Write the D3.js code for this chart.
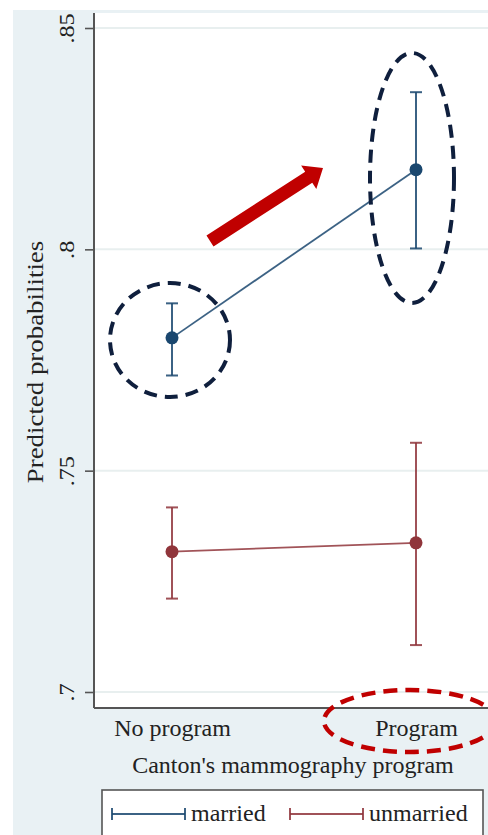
<!DOCTYPE html>
<html>
<head>
<meta charset="utf-8">
<script src="https://cdn.jsdelivr.net/npm/d3@7"></script>
<style>
  html, body { margin: 0; padding: 0; background: #ffffff; }
  svg { display: block; }
  svg text { font-family: "Liberation Serif", "DejaVu Serif", serif !important; fill: #222; }
</style>
</head>
<body>
<svg id="chart" width="488" height="835"></svg>
<script>
// Predicted probabilities by programme status and marital status
const categories = ["No program", "Program"];
const seriesNames = ["married", "unmarried"];
const marriedValues = [0.780, 0.818];
const marriedLower  = [0.7715, 0.8002];
const marriedUpper  = [0.7878, 0.8355];
const unmarriedValues = [0.7317, 0.7337];
const unmarriedLower  = [0.7211, 0.7106];
const unmarriedUpper  = [0.7417, 0.7563];
const yTicks = [0.7, 0.75, 0.8, 0.85];
const yTickLabels = [".7", ".75", ".8", ".85"];

const colors = { married: "#1a476f", unmarried: "#90353b" };
const SERIF = "Liberation Serif";

const svg = d3.select("#chart").attr("font-family", SERIF);
const W = 488, H = 835;
const FS = 24; // main text size

// Outer panel background
svg.append("rect").attr("x", 13).attr("y", 10).attr("width", W - 13).attr("height", H - 10)
  .attr("fill", "#e9f1f4");

// Plot region
const plot = { left: 94, top: 13, right: 490, bottom: 708 };
svg.append("rect").attr("x", plot.left).attr("y", plot.top)
  .attr("width", plot.right - plot.left).attr("height", plot.bottom - plot.top)
  .attr("fill", "#ffffff");

const y = d3.scaleLinear().domain([0.7, 0.85]).range([692, 28]);
const x = d3.scalePoint().domain(categories).range([172, 416]);

// Gridlines
svg.append("g").selectAll("line").data(yTicks).join("line")
  .attr("x1", plot.left).attr("x2", plot.right)
  .attr("y1", d => y(d)).attr("y2", d => y(d))
  .attr("stroke", "#e8efef").attr("stroke-width", 2);

// Y axis
const yAxis = d3.axisLeft(y).tickValues(yTicks)
  .tickFormat((d, i) => yTickLabels[i]).tickSize(9).tickPadding(4);
const gy = svg.append("g").attr("transform", `translate(${plot.left},0)`).call(yAxis)
  .attr("font-family", SERIF);
gy.select(".domain").remove();
gy.selectAll(".tick line").attr("stroke", "#555").attr("stroke-width", 1.6);
gy.selectAll(".tick text")
  .attr("font-size", 21).attr("fill", "#333").attr("font-family", SERIF)
  .attr("text-anchor", "middle")
  .attr("x", null).attr("dy", null)
  .attr("transform", "translate(-20,0) rotate(-90) scale(1.15,1)");

// Axis lines
svg.append("line").attr("x1", plot.left).attr("x2", plot.left)
  .attr("y1", plot.top).attr("y2", plot.bottom)
  .attr("stroke", "#555").attr("stroke-width", 2);
svg.append("line").attr("x1", plot.left).attr("x2", plot.right)
  .attr("y1", plot.bottom).attr("y2", plot.bottom)
  .attr("stroke", "#555").attr("stroke-width", 2);

// X axis labels
const xAxis = d3.axisBottom(x).tickSize(0).tickPadding(0);
const gx = svg.append("g").attr("transform", `translate(0,${plot.bottom})`).call(xAxis)
  .attr("font-family", SERIF);
gx.select(".domain").remove();
gx.selectAll(".tick text").attr("font-size", FS).attr("fill", "#222").attr("font-family", SERIF)
  .attr("y", 28).attr("dy", null);

// Axis titles
svg.append("text").attr("x", 293).attr("y", 773).attr("text-anchor", "middle")
  .attr("font-family", SERIF).attr("font-size", FS).text("Canton's mammography program");
svg.append("text").attr("transform", "translate(43,362) rotate(-90) scale(1.12,1)")
  .attr("text-anchor", "middle").attr("font-family", SERIF).attr("font-size", FS)
  .text("Predicted probabilities");

// Series
const series = [
  { name: "married", values: marriedValues, lo: marriedLower, hi: marriedUpper },
  { name: "unmarried", values: unmarriedValues, lo: unmarriedLower, hi: unmarriedUpper }
];
const line = d3.line().x((d, i) => x(categories[i])).y(d => y(d));

series.forEach(s => {
  const g = svg.append("g");
  const c = colors[s.name];
  g.append("path").attr("d", line(s.values)).attr("fill", "none")
    .attr("stroke", c).attr("stroke-width", 1.8).attr("opacity", 0.85);
  categories.forEach((cat, i) => {
    const cx = x(cat);
    g.append("line").attr("x1", cx).attr("x2", cx)
      .attr("y1", y(s.lo[i])).attr("y2", y(s.hi[i]))
      .attr("stroke", c).attr("stroke-width", 2).attr("opacity", 0.85);
    [s.lo[i], s.hi[i]].forEach(v => {
      g.append("line").attr("x1", cx - 6).attr("x2", cx + 6)
        .attr("y1", y(v)).attr("y2", y(v))
        .attr("stroke", c).attr("stroke-width", 2).attr("opacity", 0.85);
    });
    g.append("circle").attr("cx", cx).attr("cy", y(s.values[i])).attr("r", 6.5)
      .attr("fill", c);
  });
});

// Annotations: dashed ellipses and arrow
const navy = "#0f1f3d", red = "#c00000";
svg.append("ellipse").attr("cx", 170).attr("cy", 340).attr("rx", 60).attr("ry", 57)
  .attr("fill", "none").attr("stroke", navy).attr("stroke-width", 4)
  .attr("stroke-dasharray", "13 8");
svg.append("ellipse").attr("cx", 412).attr("cy", 178).attr("rx", 42).attr("ry", 125)
  .attr("fill", "none").attr("stroke", navy).attr("stroke-width", 4)
  .attr("stroke-dasharray", "13 8");
svg.append("ellipse").attr("cx", 410).attr("cy", 721).attr("rx", 86).attr("ry", 31)
  .attr("fill", "none").attr("stroke", red).attr("stroke-width", 4.5)
  .attr("stroke-dasharray", "14 8");

// Arrow pointing up-right
(function () {
  const x0 = 210, y0 = 241, x1 = 323, y1 = 168;
  const ang = Math.atan2(y1 - y0, x1 - x0);
  const len = Math.hypot(x1 - x0, y1 - y0);
  const body = 13, headW = 28, headL = 17;
  const pts = [
    [0, -body / 2], [len - headL, -body / 2], [len - headL, -headW / 2],
    [len, 0], [len - headL, headW / 2], [len - headL, body / 2], [0, body / 2]
  ];
  svg.append("polygon")
    .attr("points", pts.map(p => p.join(",")).join(" "))
    .attr("transform", `translate(${x0},${y0}) rotate(${ang * 180 / Math.PI})`)
    .attr("fill", red);
})();

// Legend
const lg = svg.append("g");
lg.append("rect").attr("x", 102).attr("y", 790).attr("width", 381).attr("height", 60)
  .attr("fill", "#ffffff").attr("stroke", "#555").attr("stroke-width", 1.6);
const legendItems = [
  { name: seriesNames[0], x0: 112, x1: 185, tx: 191 },
  { name: seriesNames[1], x0: 290, x1: 363, tx: 369 }
];
legendItems.forEach(it => {
  const c = colors[it.name];
  lg.append("line").attr("x1", it.x0).attr("x2", it.x1).attr("y1", 814).attr("y2", 814)
    .attr("stroke", c).attr("stroke-width", 2).attr("opacity", 0.85);
  [it.x0, it.x1].forEach(px => lg.append("line").attr("x1", px).attr("x2", px)
    .attr("y1", 808).attr("y2", 820).attr("stroke", c).attr("stroke-width", 2).attr("opacity", 0.85));
  lg.append("text").attr("x", it.tx).attr("y", 821).attr("font-family", SERIF)
    .attr("font-size", FS).text(it.name);
});
</script>
</body>
</html>
